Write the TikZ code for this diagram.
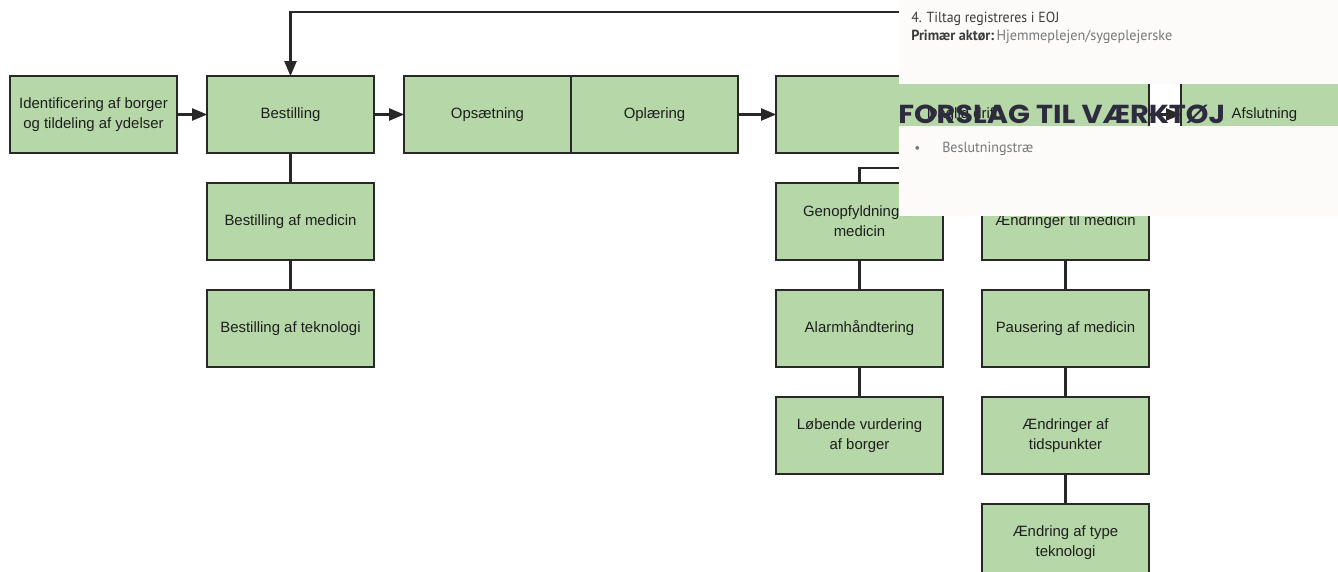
\documentclass[tikz,border=0pt]{standalone}
\usepackage{graphicx}
\usepackage{fontspec}
\setmainfont{Liberation Sans}
\newfontfamily\panelfont{PT Sans}
\newfontfamily\titlefont{Poppins}
\usepackage{tikz}
\usetikzlibrary{arrows,positioning}
\usepackage{xcolor}
\definecolor{boxgreen}{RGB}{182,215,168}
\definecolor{boxline}{RGB}{40,40,40}
\definecolor{boxtext}{RGB}{30,30,30}
\definecolor{panelwhite}{RGB}{252,251,250}
\definecolor{titleink}{RGB}{46,43,62}
\definecolor{paneltext}{RGB}{60,60,60}
\definecolor{panelgray}{RGB}{120,120,120}
\tikzstyle{stepbox} = [rectangle, minimum width=125.25pt, minimum height=57.75pt, align=center, draw=boxline, fill=boxgreen, line width=1.7pt, outer sep=0pt, text=boxtext, font=\fontsize{11.2}{15}\selectfont]
\tikzstyle{arrow} = [line width=1.6pt,->,>=triangle 45,color=boxline]
\tikzstyle{link} = [line width=1.6pt,color=boxline]

\begin{document}
\begin{tikzpicture}[x=0.75pt,y=-0.75pt,node distance=22.5pt]
\clip (0,0) rectangle (1338,571);
\fill[white] (0,0) rectangle (1338,571);
% main row
\node[stepbox] (ident) at (93.5,114.5) {Identificering af borger\\og tildeling af ydelser};
\node[stepbox, right=of ident] (best) {Bestilling};
\node[stepbox, right=of best] (ops) {Opsætning};
\node[stepbox, right=0pt of ops] (opl) {Oplæring};
\node[stepbox, minimum width=279.75pt, right=28.5pt of opl] (drift) {Daglig drift};
\node[stepbox, right=24pt of drift] (afsl) {Afslutning};
% under bestilling
\node[stepbox, below=of best] (bmed) {Bestilling af medicin};
\node[stepbox, below=of bmed] (btek) {Bestilling af teknologi};
% under drift
\node[stepbox, below=of drift.south west, anchor=north west] (geno) {Genopfyldning af\\medicin};
\node[stepbox, below=of geno] (alarm) {Alarmhåndtering};
\node[stepbox, below=of alarm] (vurd) {Løbende vurdering\\af borger};
\node[stepbox, below=of drift.south east, anchor=north east] (aemed) {Ændringer til medicin};
\node[stepbox, below=of aemed] (paus) {Pausering af medicin};
\node[stepbox, below=of paus] (tids) {Ændringer af\\tidspunkter};
\node[stepbox, below=of tids] (type) {Ændring af type\\teknologi};
% connectors
\draw[arrow] (ident) -- (best);
\draw[arrow] (best) -- (ops);
\draw[arrow] (opl) -- (drift);
\draw[arrow] (drift) -- (afsl);
\draw[arrow] (drift.north) -- ++(0,48pt) -| (best.north);
\draw[link] (best) -- (bmed);
\draw[link] (bmed) -- (btek);
\draw[link] (drift.south) -- ++(0,-11.25pt) coordinate (split) -| (geno.north);
\draw[link] (split) -| (aemed.north);
\draw[link] (geno) -- (alarm);
\draw[link] (alarm) -- (vurd);
\draw[link] (aemed) -- (paus);
\draw[link] (paus) -- (tids);
\draw[link] (tids) -- (type);
% slide panel on top
\fill[panelwhite] (899,0) rectangle (1338,84);
\fill[panelwhite] (899,125.5) rectangle (1338,216);
\node[anchor=base west, inner sep=0pt, text=paneltext] (tiltag) at (911,22.7) {\resizebox{111pt}{\height}{\panelfont\fontsize{11}{13}\selectfont 4. Tiltag registreres i EOJ}};
\node[anchor=base west, inner sep=0pt] (aktor) at (911,40.5) {\resizebox{195.75pt}{\height}{\panelfont\fontsize{11}{13}\selectfont\textcolor{paneltext}{\bfseries Primær aktør:}\,\textcolor{panelgray}{Hjemmeplejen/sygeplejerske}}};
\node[anchor=base west, inner sep=0pt, text=titleink] (title) at (898,123.3) {\resizebox{245.25pt}{\height}{\titlefont\bfseries\fontsize{19.5}{21}\selectfont FORSLAG TIL VÆRKTØJ}};
\node[anchor=base west, inner sep=0pt, text=panelgray] (bullet) at (914,152) {\panelfont\fontsize{10}{12}\selectfont •};
\node[anchor=base west, inner sep=0pt, text=panelgray] (tool) at (942,152) {\resizebox{68.25pt}{\height}{\panelfont\fontsize{11}{13}\selectfont Beslutningstræ}};
\end{tikzpicture}
\end{document}
